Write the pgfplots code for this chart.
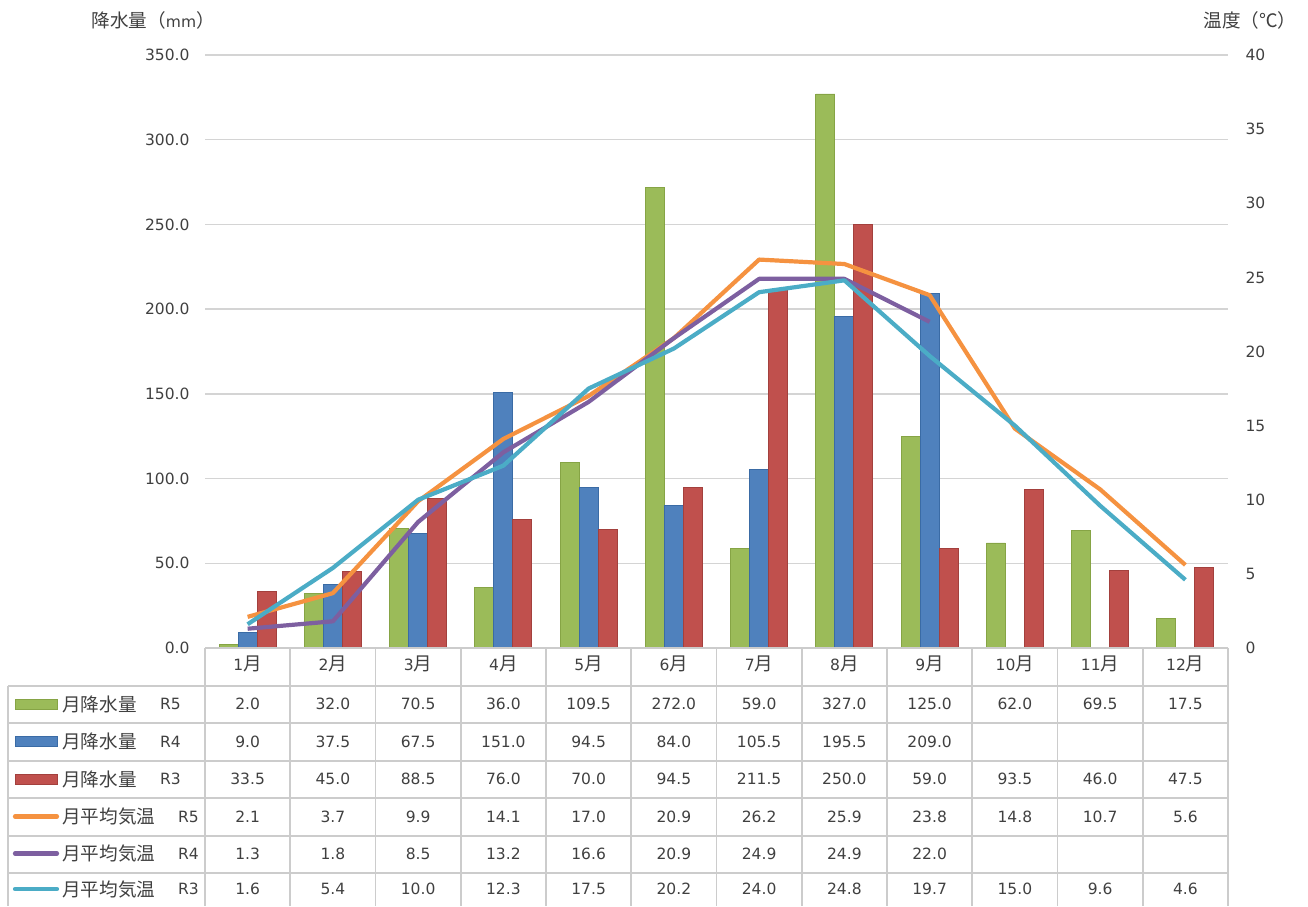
\documentclass[border=0pt]{standalone}
\usepackage{pgfplots}
\pgfplotsset{compat=1.18}
\usepackage{pgfplotstable}
\usepackage{fontspec}
\setmainfont{DejaVu Sans}
\newfontfamily\jp[Scale=1.2]{Noto Sans CJK JP}

\definecolor{rgreen}{HTML}{9BBB59}
\definecolor{rgreenD}{HTML}{86A445}
\definecolor{rblue}{HTML}{4F81BD}
\definecolor{rblueD}{HTML}{3A6BA5}
\definecolor{rred}{HTML}{C0504D}
\definecolor{rredD}{HTML}{A3403D}
\definecolor{orng}{HTML}{F59240}
\definecolor{purp}{HTML}{7D5FA0}
\definecolor{cyan2}{HTML}{4BACC6}
\definecolor{txt}{HTML}{404040}
\definecolor{gridc}{HTML}{D4D4D4}
\definecolor{tabc}{HTML}{CCCCCC}

% month, rain R5 R4 R3, temp R5 R4 R3
\pgfplotstableread{
m  r5    r4    r3    t5   t4   t3
1  2.0   9.0   33.5  2.1  1.3  1.6
2  32.0  37.5  45.0  3.7  1.8  5.4
3  70.5  67.5  88.5  9.9  8.5  10.0
4  36.0  151.0 76.0  14.1 13.2 12.3
5  109.5 94.5  70.0  17.0 16.6 17.5
6  272.0 84.0  94.5  20.9 20.9 20.2
7  59.0  105.5 211.5 26.2 24.9 24.0
8  327.0 195.5 250.0 25.9 24.9 24.8
9  125.0 209.0 59.0  23.8 22.0 19.7
10 62.0  nan   93.5  14.8 nan  15.0
11 69.5  nan   46.0  10.7 nan  9.6
12 17.5  nan   47.5  5.6  nan  4.6
}\data

\newcommand\tsuki{{\jp 月}}
\newcommand\fs{\fontsize{15.5}{18}\selectfont}

% one row of the data table, as text under the axis
\newcommand\tabrow[2]{%
  \addplot[only marks, mark=*, mark size=0pt, draw=none,
    nodes near coords, point meta=explicit symbolic,
    nodes near coords style={anchor=center, yshift=#2, text=txt, font=\fs}]
    table[x=m, y expr={\thisrow{#1}*0}, meta=#1] {\data};
}

\begin{document}
\begin{tikzpicture}[x=1pt, y=1pt, font=\fs]
\path (0,0) rectangle (1308,906);

\begin{axis}[
  at={(205pt,258pt)}, anchor=south west,
  width=1023pt, height=593pt, scale only axis,
  xmin=0.5, xmax=12.5, ymin=0, ymax=350,
  clip=false,
  axis line style={draw=none},
  major tick length=0pt,
  ytick={0,50,...,350},
  xtick={1,...,12},
  xticklabels={1\tsuki,2\tsuki,3\tsuki,4\tsuki,5\tsuki,6\tsuki,7\tsuki,8\tsuki,9\tsuki,10\tsuki,11\tsuki,12\tsuki},
  xticklabel style={anchor=center, yshift=-16pt},
  /pgf/number format/assume math mode=true,
  yticklabel style={/pgf/number format/fixed, /pgf/number format/fixed zerofill,
    /pgf/number format/precision=1, xshift=-12pt},
  tick label style={font=\fs, text=txt},
  ymajorgrids,
  grid style={line width=1.3pt, color=gridc},
]
\addplot[ybar, bar width=19pt, bar shift=-19pt, fill=rgreen, draw=rgreenD, line width=0.8pt]
  table[x=m, y=r5] {\data};
\addplot[ybar, bar width=19pt, bar shift=0pt, fill=rblue, draw=rblueD, line width=0.8pt]
  table[x=m, y=r4] {\data};
\addplot[ybar, bar width=19pt, bar shift=19pt, fill=rred, draw=rredD, line width=0.8pt]
  table[x=m, y=r3] {\data};

\tabrow{r5}{-56pt}
\tabrow{r4}{-93.5pt}
\tabrow{r3}{-131pt}
\tabrow{t5}{-168.5pt}
\tabrow{t4}{-205.5pt}
\tabrow{t3}{-241pt}
\end{axis}

\begin{axis}[
  at={(205pt,258pt)}, anchor=south west,
  width=1023pt, height=593pt, scale only axis,
  xmin=0.5, xmax=12.5, ymin=0, ymax=40,
  axis x line=none, axis y line*=right,
  axis line style={draw=none},
  major tick length=0pt,
  ytick={0,5,...,40},
  /pgf/number format/assume math mode=true,
  yticklabel style={anchor=west, xshift=14pt},
  tick label style={font=\fs, text=txt},
]
\addplot[orng, line width=4.2pt, line join=round] table[x=m, y=t5] {\data};
\addplot[purp, line width=4.2pt, line join=round] table[x=m, y=t4] {\data};
\addplot[cyan2, line width=4.2pt, line join=round] table[x=m, y=t3] {\data};
\end{axis}

% axis titles
\node[anchor=west, text=txt] at (88,886) {{\jp 降水量（}mm{\jp ）}};
\node[anchor=east, text=txt] at (1300,886) {{\jp 温度（℃）}};

% table grid
\begin{scope}[tabc, line width=1.8pt]
\draw (205,258) -- (1228,258);
\foreach \yy in {220,183,145,108,70,33} \draw (8,\yy) -- (1228,\yy);
\foreach \k in {0,...,12} \draw ({205+85.25*\k},258) -- ({205+85.25*\k},0);
\draw (8,220) -- (8,0);
\end{scope}

% legend column
\foreach \yy/\fc/\dc/\r in {202/rgreen/rgreenD/R5, 164.5/rblue/rblueD/R4, 127/rred/rredD/R3} {
  \draw[fill=\fc, draw=\dc, line width=0.8pt] (15,\yy-5) rectangle (57,\yy+5);
  \node[anchor=west, text=txt, inner sep=0pt] at (62,\yy) {{\jp 月降水量}};
  \node[anchor=west, text=txt, inner sep=0pt] at (160,\yy) {\r};
}
\foreach \yy/\lc/\r in {89.5/orng/R5, 52.5/purp/R4, 17/cyan2/R3} {
  \draw[\lc, line width=4.2pt, line cap=round] (15,\yy) -- (57,\yy);
  \node[anchor=west, text=txt, inner sep=0pt] at (62,\yy) {{\jp 月平均気温}};
  \node[anchor=west, text=txt, inner sep=0pt] at (178,\yy) {\r};
}
\end{tikzpicture}
\end{document}
